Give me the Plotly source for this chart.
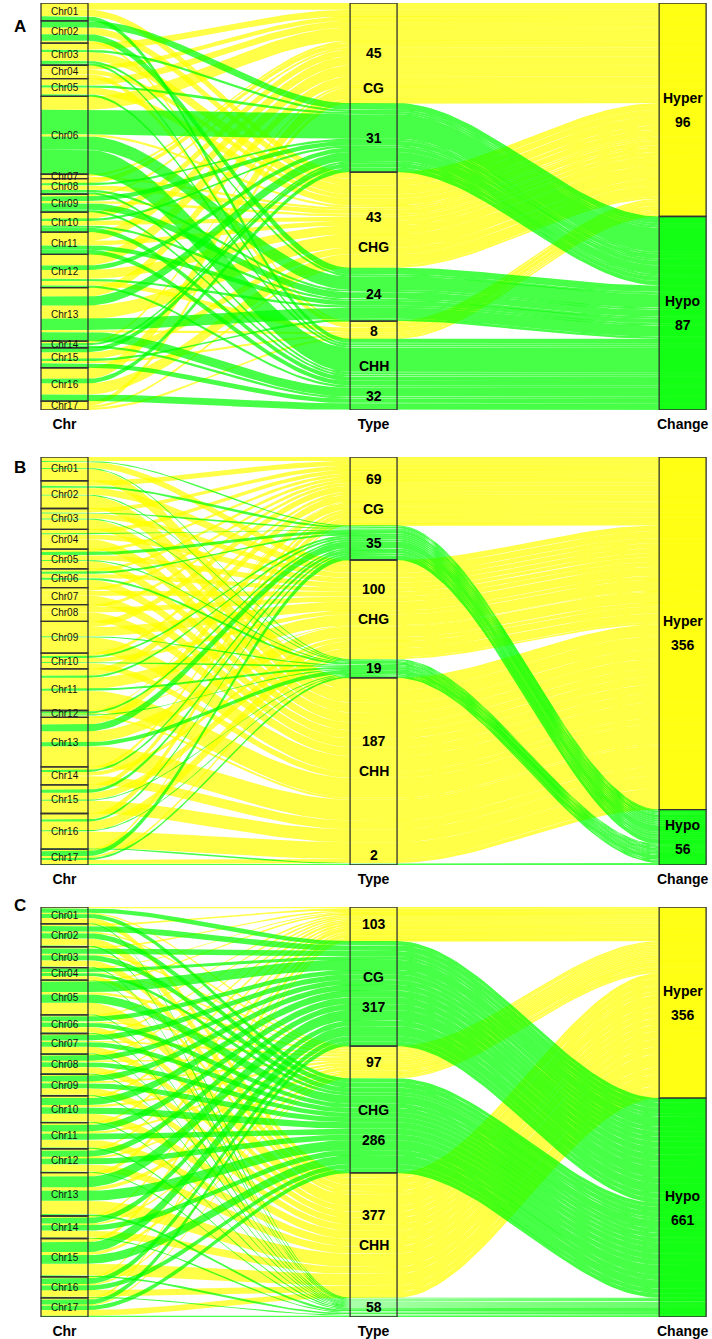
import numpy as np
import plotly.graph_objects as go

# ---- data -----------------------------------------------------------------
chroms = ["Chr01", "Chr02", "Chr03", "Chr04", "Chr05", "Chr06", "Chr07", "Chr08", "Chr09",
          "Chr10", "Chr11", "Chr12", "Chr13", "Chr14", "Chr15", "Chr16", "Chr17"]
types = ["CG", "CHG", "CHH"]
changes = ["Hyper", "Hypo"]
axis_names = ["Chr", "Type", "Change"]

# one row per chromosome, columns:
# CG-Hyper, CG-Hypo, CHG-Hyper, CHG-Hypo, CHH-Hyper, CHH-Hypo
counts_a = [
    [3, 0, 3, 0, 0, 2],
    [0, 3, 3, 3, 1, 0],
    [3, 1, 4, 1, 0, 1],
    [2, 0, 2, 0, 2, 0],
    [3, 1, 3, 0, 0, 1],
    [6, 11, 1, 6, 0, 11],
    [1, 0, 1, 0, 0, 0],
    [2, 1, 2, 1, 0, 1],
    [1, 2, 1, 3, 0, 1],
    [3, 1, 2, 1, 0, 2],
    [4, 0, 2, 2, 0, 2],
    [5, 2, 4, 1, 2, 1],
    [4, 4, 6, 5, 1, 4],
    [1, 1, 0, 0, 0, 1],
    [0, 2, 3, 1, 1, 2],
    [5, 2, 5, 0, 0, 3],
    [2, 0, 1, 0, 1, 0],
]
counts_b = [
    [4, 1, 6, 1, 12, 0],
    [5, 2, 7, 1, 13, 0],
    [4, 1, 5, 1, 10, 0],
    [4, 1, 5, 0, 10, 0],
    [3, 3, 5, 1, 8, 0],
    [3, 2, 4, 2, 8, 0],
    [3, 0, 5, 0, 9, 0],
    [3, 0, 5, 0, 9, 0],
    [6, 0, 9, 1, 16, 0],
    [3, 2, 4, 1, 6, 0],
    [7, 2, 11, 2, 20, 0],
    [1, 2, 1, 1, 2, 0],
    [7, 7, 11, 4, 21, 0],
    [3, 2, 4, 0, 9, 0],
    [5, 3, 7, 1, 13, 0],
    [6, 2, 9, 1, 17, 1],
    [2, 5, 2, 2, 4, 1],
]
counts_c = [
    [4, 13, 4, 12, 15, 3],
    [6, 17, 5, 16, 21, 4],
    [5, 16, 5, 15, 19, 3],
    [3, 10, 3, 9, 11, 2],
    [5, 31, 7, 25, 34, 3],
    [5, 14, 4, 13, 17, 3],
    [5, 16, 5, 14, 19, 3],
    [5, 15, 5, 14, 19, 3],
    [5, 17, 5, 15, 20, 3],
    [7, 21, 7, 19, 24, 3],
    [7, 20, 7, 18, 23, 4],
    [6, 18, 6, 17, 22, 3],
    [12, 32, 11, 30, 40, 6],
    [6, 17, 5, 16, 21, 3],
    [11, 30, 9, 26, 35, 5],
    [5, 16, 5, 14, 20, 3],
    [6, 14, 4, 13, 17, 4],
]
# numbers printed in the Change column (as shown in the figure)
change_text_a = ["96", "87"]
change_text_b = ["356", "56"]
change_text_c = ["356", "661"]

# ---- style ----------------------------------------------------------------
W, H = 712, 1339
FONT = "Liberation Sans, Arial, sans-serif"
YEL = "rgba(255,255,0,0.72)"
GRN = "rgba(0,255,0,0.72)"
EDGE = "#333333"
hw = 0.076                    # half width of a stratum (axis units)
xr = [0.7913, 3.095]
panel_px = [(3, 410), (457, 865), (907, 1317)]   # top / bottom of each panel in px
letters = ["A", "B", "C"]
letter_px = [15, 467, 917]

panels = [(counts_a, change_text_a), (counts_b, change_text_b), (counts_c, change_text_c)]


def curve(x0, x1, y0, y1, n=40):
    t = np.linspace(0, 1, n)
    s = t * t * (3 - 2 * t)
    return list(x0 + (x1 - x0) * t), list(y0 + (y1 - y0) * s)


def edge(a, b, c):
    x1, y1 = curve(1 + hw, 2 - hw, a, b)
    x2, y2 = curve(2 + hw, 3 - hw, b, c)
    return [1 - hw] + x1 + x2 + [3 + hw], [a] + y1 + y2 + [c]


fig = go.Figure()
shapes = []
annotations = []

for p, (counts, change_text) in enumerate(panels):
    M = np.array(counts, dtype=float)
    total = M.sum()
    xa = "x" if p == 0 else f"x{p + 1}"
    ya = "y" if p == 0 else f"y{p + 1}"
    top, bot = panel_px[p]
    pxu = (bot - top) / total

    # lode positions on each axis
    y_chr = np.zeros_like(M)
    off = 0
    for i in range(len(chroms)):
        for k in range(6):
            y_chr[i, k] = off
            off += M[i, k]
    y_type = np.zeros_like(M)
    off = 0
    for t in range(3):
        for c in range(2):
            for i in range(len(chroms)):
                y_type[i, 2 * t + c] = off
                off += M[i, 2 * t + c]
    y_chg = np.zeros_like(M)
    off = 0
    for c in range(2):
        for t in range(3):
            for i in range(len(chroms)):
                y_chg[i, 2 * t + c] = off
                off += M[i, 2 * t + c]

    # alluvia: yellow first, green on top
    for c in range(2):
        for t in range(3):
            k = 2 * t + c
            for i in range(len(chroms)):
                h = M[i, k]
                if h == 0:
                    continue
                xt, yt = edge(y_chr[i, k], y_type[i, k], y_chg[i, k])
                xb, yb = edge(y_chr[i, k] + h, y_type[i, k] + h, y_chg[i, k] + h)
                fig.add_trace(go.Scatter(
                    x=xt + xb[::-1], y=yt + yb[::-1],
                    mode="lines", fill="toself",
                    fillcolor=YEL if c == 0 else GRN,
                    line=dict(width=0), hoverinfo="skip",
                    xaxis=xa, yaxis=ya))

    xref, yref = xa, ya

    # Chr strata
    chr_tot = M.sum(axis=1)
    start = 0
    for i, name in enumerate(chroms):
        shapes.append(dict(type="rect", xref=xref, yref=yref,
                           x0=1 - hw, x1=1 + hw, y0=start, y1=start + chr_tot[i],
                           line=dict(color=EDGE, width=1.3), layer="above"))
        annotations.append(dict(x=1, y=start + chr_tot[i] / 2, xref=xref, yref=yref,
                                text=name, showarrow=False,
                                font=dict(family=FONT, size=10, color="#111111")))
        start += chr_tot[i]

    # Type strata
    start = 0
    for t, name in enumerate(types):
        parts = [M[:, 2 * t].sum(), M[:, 2 * t + 1].sum()]
        tt = sum(parts)
        shapes.append(dict(type="rect", xref=xref, yref=yref,
                           x0=2 - hw, x1=2 + hw, y0=start, y1=start + tt,
                           line=dict(color=EDGE, width=1.3), layer="above"))
        mid = start + tt / 2
        annotations.append(dict(x=2, y=mid, xref=xref, yref=yref, text=f"<b>{name}</b>",
                                showarrow=False, font=dict(family=FONT, size=14, color="black")))
        s0 = start
        for c in range(2):
            m = s0 + parts[c] / 2
            d = (m - mid) * pxu
            if abs(d) < 30:
                sgn = np.sign(d) if d != 0 else (-1 if c == 0 else 1)
                m = mid + sgn * 30 / pxu
            m = min(max(m, start + 10 / pxu), start + tt - 10 / pxu)
            annotations.append(dict(x=2, y=m, xref=xref, yref=yref,
                                    text=f"<b>{int(parts[c])}</b>", showarrow=False,
                                    font=dict(family=FONT, size=14, color="black")))
            s0 += parts[c]
        start += tt

    # Change strata
    start = 0
    for c, name in enumerate(changes):
        ct = M[:, c::2].sum()
        shapes.append(dict(type="rect", xref=xref, yref=yref,
                           x0=3 - hw, x1=3 + hw, y0=start, y1=start + ct,
                           fillcolor=YEL if c == 0 else GRN,
                           line=dict(color=EDGE, width=1.3), layer="above"))
        mid = start + ct / 2
        annotations.append(dict(x=3, y=mid - 12 / pxu, xref=xref, yref=yref,
                                text=f"<b>{name}</b>", showarrow=False,
                                font=dict(family=FONT, size=14, color="black")))
        annotations.append(dict(x=3, y=mid + 12 / pxu, xref=xref, yref=yref,
                                text=f"<b>{change_text[c]}</b>", showarrow=False,
                                font=dict(family=FONT, size=14, color="black")))
        start += ct

    annotations.append(dict(x=12 / W, y=1 - letter_px[p] / H, xref="paper", yref="paper",
                            text=f"<b>{letters[p]}</b>", showarrow=False,
                            font=dict(family=FONT, size=17, color="black")))

    key = "" if p == 0 else str(p + 1)
    fig.layout["xaxis" + key] = dict(
        domain=[0, 1], range=xr, anchor=ya, tickvals=[1, 2, 3],
        ticktext=[f"<b>{a}</b>" for a in axis_names],
        tickfont=dict(family=FONT, size=14, color="black"), ticklabelstandoff=4,
        showgrid=False, zeroline=False, showline=False, ticks="", fixedrange=True)
    fig.layout["yaxis" + key] = dict(
        domain=[1 - bot / H, 1 - top / H], range=[total, 0], anchor=xa,
        visible=False, showgrid=False, zeroline=False, fixedrange=True)

fig.update_layout(
    width=W, height=H,
    margin=dict(l=0, r=0, t=0, b=0),
    paper_bgcolor="white", plot_bgcolor="white",
    showlegend=False,
    shapes=shapes, annotations=annotations,
)

# drop the page's default body margin so the figure fills the window exactly
fig.write_html("out.html", config={"displayModeBar": False},
               post_script="document.body.style.margin='0';document.body.style.overflow='hidden';")
